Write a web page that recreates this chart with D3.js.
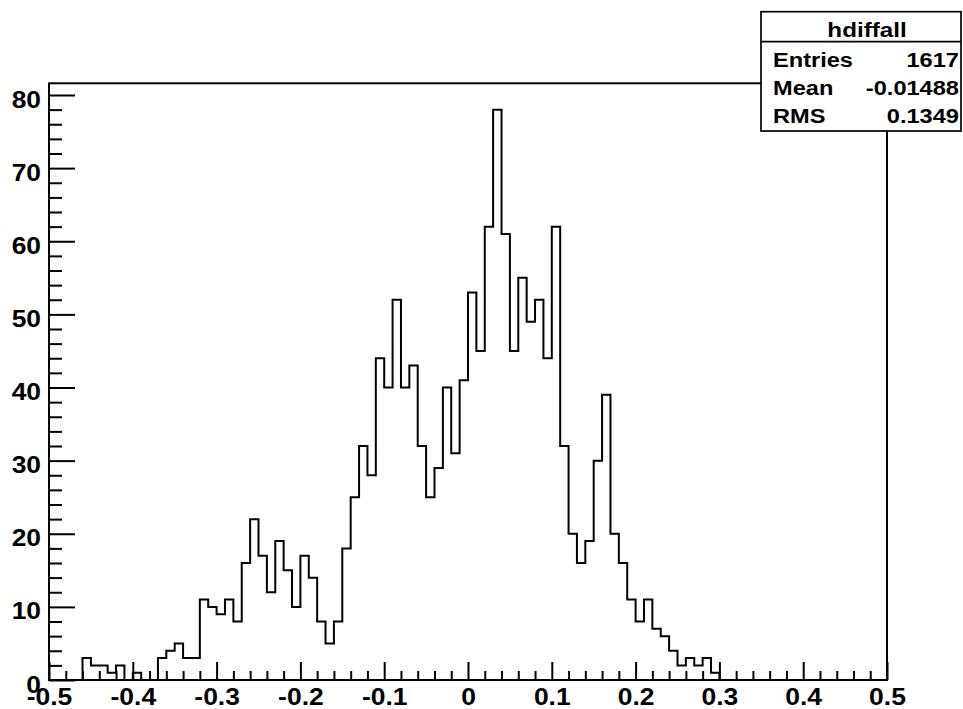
<!DOCTYPE html>
<html>
<head>
<meta charset="utf-8">
<script src="https://cdn.jsdelivr.net/npm/d3@7"></script>
<style>
  html, body { margin: 0; padding: 0; background: #fff; }
  svg { display: block; }
  text { font-family: "Liberation Sans", Arial, Helvetica, sans-serif; font-weight: bold; fill: #000; }
</style>
</head>
<body>
<svg id="chart" width="963" height="709"></svg>
<script>
// ---- data ----
const binLow = -0.5;
const binWidth = 0.01;
const counts = [
  0, 0, 0, 0, 3, 2, 2, 1, 2, 0,
  1, 0, 0, 3, 4, 5, 3, 3, 11, 10,
  9, 11, 8, 16, 22, 17, 12, 19, 15, 10,
  17, 14, 8, 5, 8, 18, 25, 32, 28, 44,
  40, 52, 40, 43, 32, 25, 29, 40, 31, 41,
  53, 45, 62, 78, 61, 45, 55, 49, 52, 44,
  62, 32, 20, 16, 19, 30, 39, 20, 16, 11,
  8, 11, 7, 6, 4, 2, 3, 2, 3, 1,
  0, 0, 0, 0, 0, 0, 0, 0, 0, 0,
  0, 0, 0, 0, 0, 0, 0, 0, 0, 0
];
const xMajorTicks = [-0.5, -0.4, -0.3, -0.2, -0.1, 0, 0.1, 0.2, 0.3, 0.4, 0.5];
const xTickLabels = ["-0.5", "-0.4", "-0.3", "-0.2", "-0.1", "0", "0.1", "0.2", "0.3", "0.4", "0.5"];
const yMajorTicks = [0, 10, 20, 30, 40, 50, 60, 70, 80];
const yTickLabels = ["0", "10", "20", "30", "40", "50", "60", "70", "80"];
const statsTitle = "hdiffall";
const statsNames = ["Entries", "Mean", "RMS"];
const statsValues = ["1617", "-0.01488", "0.1349"];

(function () {
// ---- layout ----
const svg = d3.select("#chart");
const pLeft = 49, pRight = 887, pTop = 83.3, pBottom = 680;
const x = d3.scaleLinear().domain([-0.5, 0.5]).range([pLeft, pRight]);
const y = d3.scaleLinear().domain([0, 81.6]).range([pBottom, pTop]);

// horizontally widen text glyphs (the reference font is wider than Liberation Sans)
function stretch(sel, f) {
  sel.each(function () {
    const w = this.getComputedTextLength();
    if (w > 0) {
      d3.select(this).attr("textLength", w * f).attr("lengthAdjust", "spacingAndGlyphs");
    }
  });
}

// frame
svg.append("rect")
  .attr("x", pLeft).attr("y", pTop)
  .attr("width", pRight - pLeft).attr("height", pBottom - pTop)
  .attr("fill", "none").attr("stroke", "#000").attr("stroke-width", 2);

// histogram outline
const pts = [[binLow, 0]];
counts.forEach((c, i) => {
  const x0 = binLow + i * binWidth, x1 = binLow + (i + 1) * binWidth;
  pts.push([x0, c]); pts.push([x1, c]);
});
pts.push([binLow + counts.length * binWidth, 0]);
svg.append("path")
  .attr("d", d3.line().x(d => x(d[0])).y(d => y(d[1]))(pts))
  .attr("fill", "none").attr("stroke", "#000").attr("stroke-width", 2)
  .attr("stroke-linejoin", "miter");

// minor ticks
const xMinor = d3.range(-0.5, 0.5001, 0.02).filter(v => Math.abs(Math.round(v * 10) - v * 10) > 1e-6);
const yMinor = d3.range(0, 81, 2).filter(v => v % 10 !== 0);

const xMinorAxis = d3.axisBottom(x).tickValues(xMinor).tickSize(-9).tickFormat("");
svg.append("g").attr("transform", `translate(0,${pBottom})`).call(xMinorAxis)
  .call(g => g.select(".domain").remove())
  .call(g => g.selectAll("line").attr("stroke-width", 2));

const xAxis = d3.axisBottom(x).tickValues(xMajorTicks).tickSize(-18)
  .tickFormat((d, i) => xTickLabels[i]);
svg.append("g").attr("transform", `translate(0,${pBottom})`).call(xAxis)
  .call(g => g.select(".domain").remove())
  .call(g => g.selectAll("line").attr("stroke-width", 2))
  .call(g => g.selectAll("text").attr("y", 25).attr("dy", null)
    .attr("font-size", 23).attr("font-family", "Liberation Sans, Arial, sans-serif").attr("font-weight", "bold")
    .call(s => stretch(s, 1.15)));

const yMinorAxis = d3.axisLeft(y).tickValues(yMinor).tickSize(-13).tickFormat("");
svg.append("g").attr("transform", `translate(${pLeft},0)`).call(yMinorAxis)
  .call(g => g.select(".domain").remove())
  .call(g => g.selectAll("line").attr("stroke-width", 2));

const yAxis = d3.axisLeft(y).tickValues(yMajorTicks).tickSize(-26)
  .tickFormat((d, i) => yTickLabels[i]).tickPadding(8);
svg.append("g").attr("transform", `translate(${pLeft},0)`).call(yAxis)
  .call(g => g.select(".domain").remove())
  .call(g => g.selectAll("line").attr("stroke-width", 2))
  .call(g => g.selectAll("text").attr("dy", "0.5em")
    .attr("font-size", 24).attr("font-family", "Liberation Sans, Arial, sans-serif").attr("font-weight", "bold")
    .call(s => stretch(s, 1.1)));

// stats box
const bx = 761, by = 11.7, bw = 200, bh = 119.3, sep = 41.7;
svg.append("rect").attr("x", bx).attr("y", by).attr("width", bw).attr("height", bh)
  .attr("fill", "#fff").attr("stroke", "#000").attr("stroke-width", 1.7);
svg.append("line").attr("x1", bx).attr("x2", bx + bw).attr("y1", sep).attr("y2", sep)
  .attr("stroke", "#000").attr("stroke-width", 1.7);
svg.append("text").attr("x", 867).attr("y", 37).attr("text-anchor", "middle")
  .attr("font-size", 20.5).text(statsTitle).call(s => stretch(s, 1.18));
const rowY = [66.7, 95, 123.3];
statsNames.forEach((n, i) => {
  svg.append("text").attr("x", 773).attr("y", rowY[i]).attr("font-size", 19.5).text(n)
    .call(s => stretch(s, 1.21));
  svg.append("text").attr("x", 959).attr("y", rowY[i]).attr("text-anchor", "end")
    .attr("font-size", 19.5).text(statsValues[i]).call(s => stretch(s, 1.21));
});
})();
</script>
</body>
</html>
